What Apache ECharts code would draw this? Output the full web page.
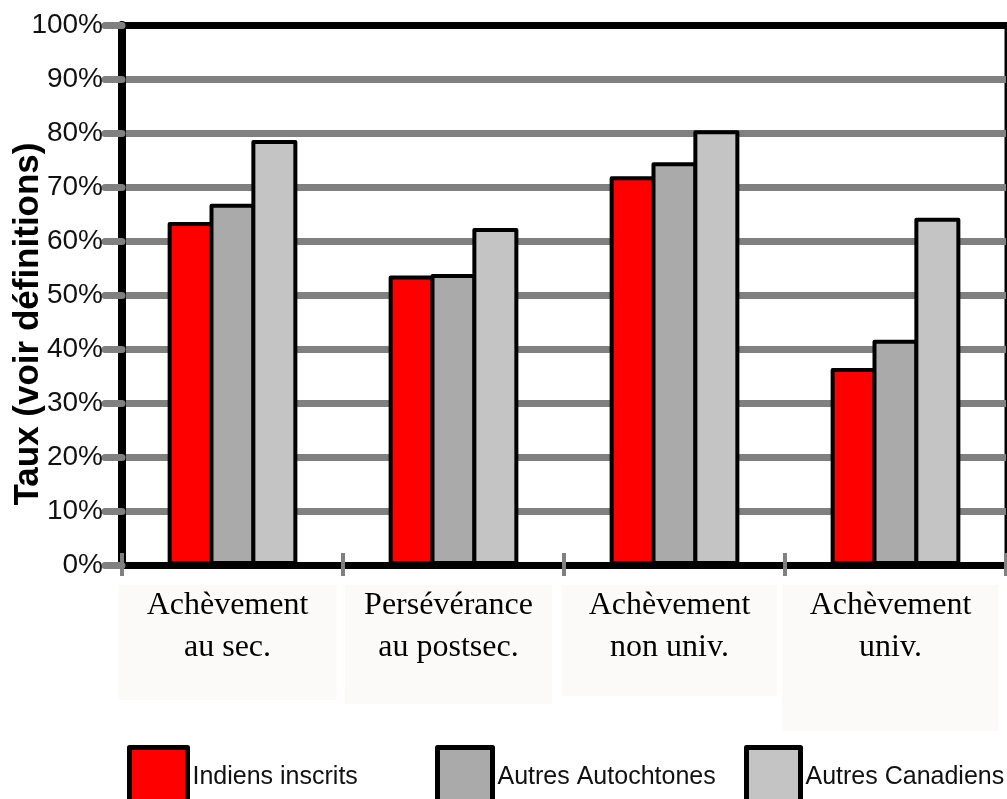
<!DOCTYPE html>
<html>
<head>
<meta charset="utf-8">
<script src="https://cdn.jsdelivr.net/npm/echarts@6/dist/echarts.min.js"></script>
<style>
html,body{margin:0;padding:0;background:#fff;}
#c{width:1007px;height:799px;}
</style>
</head>
<body>
<div id="c"></div>
<script>
// ---- data ----
var categories = ['Achèvement\nau sec.', 'Persévérance\nau postsec.', 'Achèvement\nnon univ.', 'Achèvement\nuniv.'];
var seriesNames = ['Indiens inscrits', 'Autres Autochtones', 'Autres Canadiens'];
var indiensInscrits = [63.5, 53.6, 72.0, 36.5];
var autresAutochtones = [66.9, 53.9, 74.6, 41.7];
var autresCanadiens = [78.7, 62.4, 80.5, 64.3];
var yAxisTitle = 'Taux (voir définitions)';

// ---- styles ----
var colors = ['#ff0000', '#aaaaaa', '#c4c4c4'];
var labelBoxWidths = [218, 207, 215, 216];
var labelBoxPadBottom = [31, 35, 27, 62];

var chart = echarts.init(document.getElementById('c'), null, {renderer: 'canvas'});

var catData = categories.map(function (c, i) {
  return {
    value: c,
    textStyle: {
      width: labelBoxWidths[i],
      padding: [0, 0, labelBoxPadBottom[i], 0],
      backgroundColor: '#fbfaf8',
      lineHeight: 42,
      align: 'center'
    }
  };
});

function barSeries(name, data, color) {
  return {
    name: name,
    type: 'bar',
    xAxisIndex: 0,
    yAxisIndex: 0,
    data: data,
    barWidth: 46,
    barGap: '-9%',
    itemStyle: {color: color, borderColor: '#000', borderWidth: 4, borderJoin: 'round'},
    emphasis: {disabled: true},
    animation: false
  };
}

function legendFor(name, left, w) {
  return {
    data: [name],
    left: left,
    top: 745,
    padding: 0,
    icon: 'rect',
    itemWidth: w,
    itemHeight: 60,
    itemStyle: {borderColor: '#000', borderWidth: 5},
    textStyle: {fontFamily: 'Liberation Sans, Arial, sans-serif', fontSize: 25, color: '#111'},
    selectedMode: false
  };
}

var option = {
  backgroundColor: '#ffffff',
  animation: false,
  grid: [
    {left: 122, right: 1, top: 25, bottom: 234, show: true, borderColor: '#000', borderWidth: 3, containLabel: false},
    {left: 117, right: 6, top: 25, bottom: 234, show: false, containLabel: false}
  ],
  legend: [
    legendFor(seriesNames[0], 127, 58),
    legendFor(seriesNames[1], 435, 55),
    legendFor(seriesNames[2], 744, 54)
  ],
  xAxis: [
    {
      type: 'category',
      gridIndex: 0,
      position: 'bottom',
      data: categories,
      axisLine: {show: true, onZero: false, lineStyle: {color: '#000', width: 7}},
      axisTick: {show: true, length: 11, lineStyle: {color: '#808080', width: 4}},
      axisLabel: {show: false},
      splitLine: {show: false}
    },
    {
      type: 'category',
      gridIndex: 0,
      position: 'bottom',
      data: categories,
      axisLine: {show: false},
      axisTick: {show: true, inside: true, length: 12, lineStyle: {color: '#808080', width: 4}},
      axisLabel: {show: false},
      splitLine: {show: false}
    },
    {
      type: 'category',
      gridIndex: 0,
      position: 'top',
      data: categories,
      axisLine: {show: true, lineStyle: {color: '#000', width: 7}},
      axisTick: {show: false},
      axisLabel: {show: false},
      splitLine: {show: false}
    },
    {
      type: 'category',
      gridIndex: 1,
      position: 'bottom',
      data: catData,
      axisLine: {show: false},
      axisTick: {show: false},
      axisLabel: {
        interval: 0,
        margin: 20,
        fontFamily: 'Liberation Serif, Times New Roman, serif',
        fontSize: 32,
        color: '#000',
        lineHeight: 42
      },
      splitLine: {show: false}
    }
  ],
  yAxis: [
    {
      type: 'value',
      gridIndex: 0,
      min: 0,
      max: 100,
      interval: 10,
      axisLine: {show: true, lineStyle: {color: '#000', width: 8}},
      axisTick: {show: true, length: 17, lineStyle: {color: '#808080', width: 7, cap: 'round'}},
      axisLabel: {
        formatter: '{value}%',
        margin: 19,
        fontFamily: 'Liberation Sans, Arial, sans-serif',
        fontSize: 28,
        color: '#111'
      },
      splitLine: {show: true, lineStyle: {color: '#808080', width: 7}}
    },
    {
      type: 'value',
      gridIndex: 1,
      min: 0,
      max: 100,
      show: false
    }
  ],
  graphic: [
    {
      type: 'text',
      x: 28,
      y: 324,
      rotation: Math.PI / 2,
      style: {
        text: yAxisTitle,
        fontFamily: 'Liberation Sans, Arial, sans-serif',
        fontWeight: 'bold',
        fontSize: 35,
        fill: '#000',
        align: 'center',
        verticalAlign: 'middle'
      }
    }
  ],
  series: [
    barSeries(seriesNames[0], indiensInscrits, colors[0]),
    barSeries(seriesNames[1], autresAutochtones, colors[1]),
    barSeries(seriesNames[2], autresCanadiens, colors[2])
  ]
};
chart.setOption(option);
</script>
</body>
</html>
